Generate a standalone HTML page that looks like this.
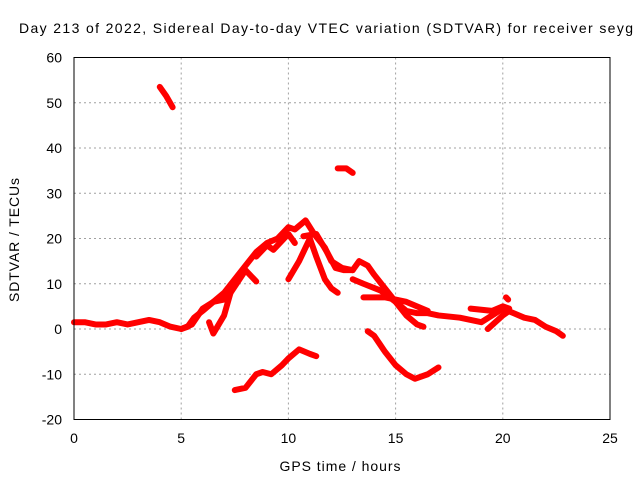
<!DOCTYPE html>
<html><head><meta charset="utf-8"><style>
body{margin:0;background:#fff;}
svg text{font-family:"Liberation Sans",sans-serif;font-size:14px;fill:#000;}
</style></head><body>
<svg id="chart" width="640" height="480" viewBox="0 0 640 480" xmlns="http://www.w3.org/2000/svg">
<text x="19" y="33" textLength="614" lengthAdjust="spacing">Day 213 of 2022, Sidereal Day-to-day VTEC variation (SDTVAR) for receiver seyg</text>
<text transform="translate(19,240) rotate(-90)" text-anchor="middle" textLength="124" lengthAdjust="spacing">SDTVAR / TECUs</text>
<text x="340" y="471" text-anchor="middle" textLength="121" lengthAdjust="spacing">GPS time / hours</text>
<g id="grid"></g>
<g id="ticks"></g>
<g id="series"></g>
<rect x="74" y="57.5" width="536" height="362" fill="none" stroke="#000" stroke-width="1"/>
</svg>
<script>
const xTicks = [0,5,10,15,20,25];
const yTicks = [-20,-10,0,10,20,30,40,50,60];
const segMain = [[0,1.5],[0.5,1.5],[1,1],[1.5,1],[2,1.5],[2.5,1],[3,1.5],[3.5,2],[4,1.5],[4.5,0.5],[5,0],[5.3,0.5],[5.6,2.5],[6,4],[6.5,6],[7,8],[7.5,11],[8,14],[8.5,17],[9,19],[9.5,20],[10,22.5],[10.3,22],[10.8,24],[11.2,21],[11.7,18],[12,15],[12.5,13.5],[13,13],[13.3,15],[13.7,14],[14,12],[14.5,9],[15,6],[15.5,4],[16,3.5],[16.5,3.5],[17,3],[18,2.5],[19,1.5],[19.5,3],[20,4.5],[20.5,3.5],[21,2.5],[21.5,2],[22,0.5],[22.5,-0.5],[22.8,-1.5]];
const segHigh = [[4,53.5],[4.3,51.5],[4.6,49]];
const segMid = [[12.3,35.5],[12.7,35.5],[13,34.5]];
const segNegA = [[7.5,-13.5],[8,-13],[8.5,-10],[8.8,-9.5],[9.2,-10],[9.7,-8],[10,-6.5],[10.5,-4.5],[11,-5.5],[11.3,-6]];
const segNegB = [[13.7,-0.5],[14,-1.5],[14.5,-5],[15,-8],[15.5,-10],[15.9,-11],[16.5,-10],[17,-8.5]];
const segA = [[6.3,1.5],[6.5,-1],[7,3],[7.3,8],[8,13],[8.5,10.5]];
const segB = [[10,11],[10.5,15],[11,20],[11.3,16],[11.7,11],[12,9],[12.3,8]];
const segC = [[10.7,20.5],[11.3,21],[11.8,17],[12.2,13.5],[12.6,13],[13,13]];
const segD = [[13,11],[13.5,10],[14.3,8.5],[15,6],[15.5,3],[16,1],[16.3,0.5]];
const segE = [[13.5,7],[14.5,7],[15.5,6],[16.5,4]];
const segF = [[18.5,4.5],[19.5,4],[20,5],[20.3,4.5]];
const segG = [[19.3,0],[20,3],[20.3,4]];
const segH = [[5,0],[5.5,1],[6,4.5],[6.5,6],[7,6.5],[7.3,8]];
const segI = [[8.5,16],[9,18.5],[9.3,17.5],[10,21],[10.3,19]];
const segJ = [[20.15,7],[20.25,6.5]];
const segments = [segMain,segHigh,segMid,segNegA,segNegB,segA,segB,segC,segD,segE,segF,segG,segH,segI,segJ];

const X0=74,X1=610,Y0=419.5,Y1=57.5;
function xs(v){return X0+(v-0)/(25-0)*(X1-X0);}
function ys(v){return Y0-(v+20)/(60+20)*(Y0-Y1);}
const NS="http://www.w3.org/2000/svg";
const grid=document.getElementById('grid'),ticks=document.getElementById('ticks'),series=document.getElementById('series');
function mk(tag,attrs,parent){const e=document.createElementNS(NS,tag);for(const k in attrs)e.setAttribute(k,attrs[k]);parent.appendChild(e);return e;}
xTicks.forEach(t=>{
  const x=xs(t);
  if(t>0&&t<25){const g=mk('line',{x1:x,x2:x,y1:Y1,y2:Y0,stroke:'#a0a0a0','stroke-dasharray':'2,3','stroke-width':1},grid);
  
  }
  const l=mk('text',{x:x,y:443,'text-anchor':'middle'},ticks);l.textContent=t;
  
  
});
yTicks.forEach(t=>{
  const y=ys(t);
  if(t>-20&&t<60){const g=mk('line',{x1:X0,x2:X1,y1:y,y2:y,stroke:'#a0a0a0','stroke-dasharray':'2,3','stroke-width':1},grid);
  
  }
  const l=mk('text',{x:62,y:y+5,'text-anchor':'end'},ticks);l.textContent=t;
  
  
});
segments.forEach(s=>{
  const p=mk('polyline',{points:s.map(d=>xs(d[0])+','+ys(d[1])).join(' '),fill:'none',stroke:'#ff0000','stroke-width':6,'stroke-linejoin':'round','stroke-linecap':'round'},series);
  
  
});
</script>
</body></html>
